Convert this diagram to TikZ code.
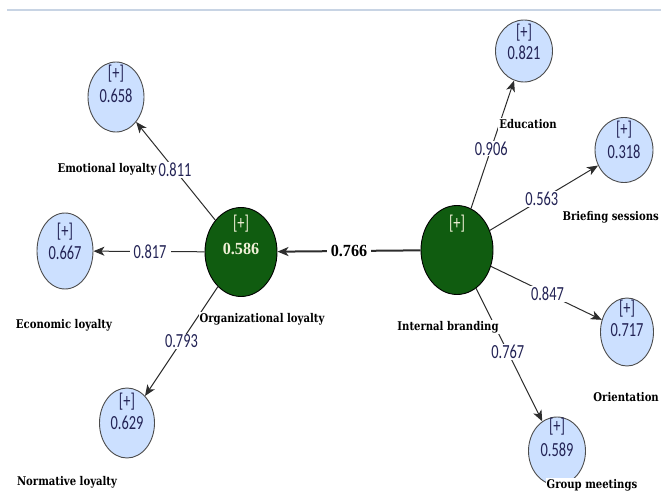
\documentclass[tikz,border=0pt]{standalone}
\usepackage{fontspec}
\usepackage{graphicx}
\usetikzlibrary{shapes.geometric,arrows.meta,calc}

\newfontfamily\numfont{Carlito}
\newfontfamily\namefont{DejaVu Serif}
\newfontfamily\pathfont{Liberation Serif}

\definecolor{numcol}{RGB}{35,35,85}
\definecolor{indfill}{RGB}{204,224,255}
\definecolor{lvfill}{RGB}{16,92,16}
\definecolor{lvtext}{RGB}{240,240,215}
\definecolor{edgecol}{RGB}{45,45,45}
\definecolor{topline}{RGB}{200,212,228}

% text styles: thin narrow figures, heavy serif captions, bold path value
\newcommand\numtxt[1]{\scalebox{0.72}[1]{\fontsize{20}{20}\selectfont\numfont #1}}
\newcommand\nametxt[1]{\scalebox{0.84}[1]{\fontsize{12}{12}\selectfont\namefont\bfseries #1}}
\newcommand\pathtxt[1]{\scalebox{0.95}[1]{\fontsize{17}{17}\selectfont\pathfont\bfseries #1}}

% indicator circle: name, x, y, width, height, value, [+] offset, value offset
\newcommand\indnode[8]{%
  \node[ind, minimum width=#4pt, minimum height=#5pt] (#1) at (#2,#3) {};
  \node[intext] (#1-p) at ($(#1)+(0,#7)$) {\numtxt{[+]}};
  \node[intext] (#1-v) at ($(#1)+(0,#8)$) {\numtxt{#6}};
}

\begin{document}
\begin{tikzpicture}[x=1pt,y=-1pt,
  ind/.style={ellipse, draw=black!70, line width=0.9pt, fill=indfill, inner sep=0pt},
  lv/.style={ellipse, draw=black, line width=0.9pt, fill=lvfill, inner sep=0pt,
             minimum width=72pt, minimum height=89pt},
  intext/.style={inner sep=0pt, text=numcol},
  lvplus/.style={inner sep=0pt, text=lvtext},
  edge/.style={draw=edgecol, line width=1pt,
               -{Stealth[length=11pt,width=9pt,inset=3pt]}},
  coef/.style={fill=white, inner xsep=4pt, inner ysep=1pt, text=numcol},
  lbl/.style={fill=white, inner xsep=1pt, inner ysep=1pt, text=black}]

\useasboundingbox (0,0) rectangle (661,492);
\clip (0,0) rectangle (661,492);

% header rule
\draw[topline, line width=1.5pt] (7,10) -- (661,10);

% latent variables
\node[lv] (org) at (241,252) {};
\node[lvplus] (org-p) at (241,224) {\numtxt{[+]}};
\node[lvplus] (org-v) at (241,249) {\pathtxt{0.586}};
\node[lv] (ib) at (457,250) {};
\node[lvplus] (ib-p) at (457,224) {\numtxt{[+]}};

% indicators
\indnode{emo}{116}{97}{56}{70}{0.658}{-23}{-1}
\indnode{eco}{65}{251}{56}{76}{0.667}{-19}{2}
\indnode{norm}{127}{423}{55}{70}{0.629}{-21}{0}
\indnode{edu}{524}{51}{57}{62}{0.821}{-18}{2}
\indnode{brf}{624}{150}{58}{65}{0.318}{-20}{2}
\indnode{ori}{627}{332}{53}{68}{0.717}{-23}{-2}
\indnode{grp}{557}{451}{57}{68}{0.589}{-24}{-1}

% outer loadings
\draw[edge] (org) -- node[coef, pos=0.51] (c-emo) {\numtxt{0.811}} (emo);
\draw[edge] (org) -- node[coef, pos=0.49] (c-eco) {\numtxt{0.817}} (eco);
\draw[edge] (org) -- node[coef, pos=0.50] (c-norm) {\numtxt{0.793}} (norm);
\draw[edge] (ib) -- node[coef, pos=0.47] (c-edu) {\numtxt{0.906}} (edu);
\draw[edge] (ib) -- node[coef, pos=0.48] (c-brf) {\numtxt{0.563}} (brf);
\draw[edge] (ib) -- node[coef, pos=0.51] (c-ori) {\numtxt{0.847}} (ori);
\draw[edge] (ib) -- node[coef, pos=0.48] (c-grp) {\numtxt{0.767}} (grp);

% path coefficient
\draw[edge, line width=2pt] (ib) -- node[coef, text=black, pos=0.5] (c-path) {\pathtxt{0.766}} (org);

% construct names
\node[lbl] (n-emo) at (107,169) {\nametxt{Emotional loyalty}};
\node[lbl] (n-eco) at (64,325) {\nametxt{Economic loyalty}};
\node[lbl] (n-norm) at (67,482) {\nametxt{Normative loyalty}};
\node[lbl] (n-org) at (262,319) {\nametxt{Organizational loyalty}};
\node[lbl] (n-ib) at (448,327) {\nametxt{Internal branding}};
\node[lbl] (n-edu) at (528,124) {\nametxt{Education}};
\node[lbl, anchor=east] (n-brf) at (660,217) {\nametxt{Briefing sessions}};
\node[lbl, anchor=east] (n-ori) at (660,397) {\nametxt{Orientation}};
\node[lbl] (n-grp) at (592,485) {\nametxt{Group meetings}};
\end{tikzpicture}
\end{document}
